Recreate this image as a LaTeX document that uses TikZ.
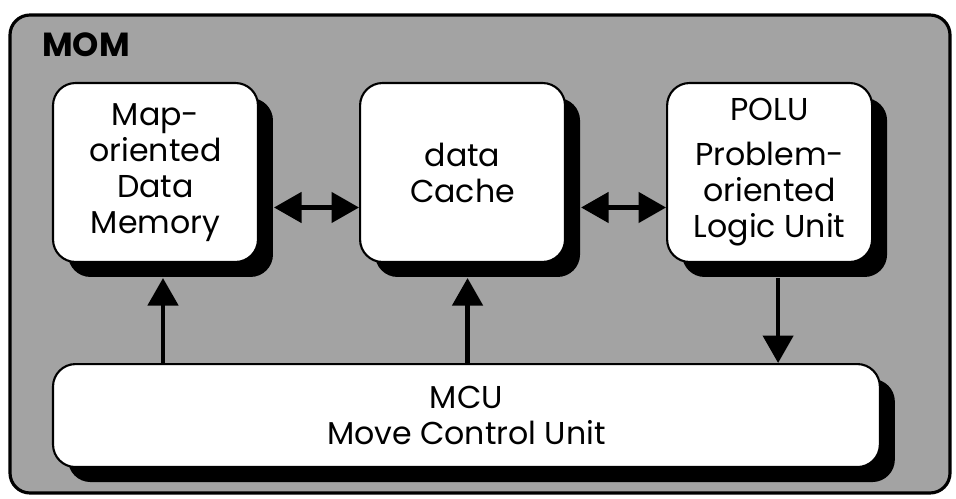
\documentclass[tikz,border=0pt]{standalone}
\usepackage{fontspec}
\setmainfont{Poppins}
\usetikzlibrary{positioning,shadows,arrows.meta}

\begin{document}
\begin{tikzpicture}[x=0.02cm,y=-0.02cm,
		unit/.style={draw=black,line width=1.2pt,fill=white,rounded corners=0.45cm,
			align=center,font=\fontsize{18}{20.5}\selectfont,
			general shadow={fill=black,shadow xshift=0.3cm,shadow yshift=-0.3cm}},
		link/.style={line width=2.6pt,-{Triangle[length=0.55cm,width=0.6cm]}},
		dlink/.style={line width=2.6pt,{Triangle[length=0.55cm,width=0.6cm]}-{Triangle[length=0.55cm,width=0.6cm]}}]
				\useasboundingbox (0,0) rectangle (956,499);
				% outer MOM frame
				\draw [line width=1.8pt,fill=black!36,rounded corners=0.4cm] (10,15) rectangle (950,493);
				\node [anchor=west,font=\bfseries\fontsize{19}{22}\selectfont] (mom) at (36,45) {MOM};
				% units
				\node [unit,minimum width=4.1cm,minimum height=3.58cm] (map) at (155.5,172.5) {Map-\\oriented\\Data\\Memory};
				\node [unit,minimum width=4.1cm,minimum height=3.58cm,right=2cm of map] (cache) {data\\Cache};
				\node [unit,minimum width=4.1cm,minimum height=3.58cm,right=2cm of cache] (polu) {POLU\\[5pt]Problem-\\oriented\\Logic Unit};
				\node [unit,minimum width=16.54cm,minimum height=2.06cm,below=2cm of map.south west,anchor=north west] (mcu) {MCU\\Move Control Unit};
				% connections
				\draw [dlink] ([xshift=0.3cm,yshift=-0.7cm]map.east) -- ([yshift=-0.7cm]cache.west);
				\draw [dlink] ([xshift=0.3cm,yshift=-0.7cm]cache.east) -- ([yshift=-0.7cm]polu.west);
				\draw [link] ([xshift=0.15cm]map.south |- mcu.north) -- ([xshift=0.15cm,yshift=-0.3cm]map.south);
				\draw [link] ([xshift=0.1cm]cache.south |- mcu.north) -- ([xshift=0.1cm,yshift=-0.3cm]cache.south);
				\draw [link] ([xshift=0.17cm,yshift=-0.3cm]polu.south) -- ([xshift=0.17cm]polu.south |- mcu.north);
			\end{tikzpicture}
\end{document}
